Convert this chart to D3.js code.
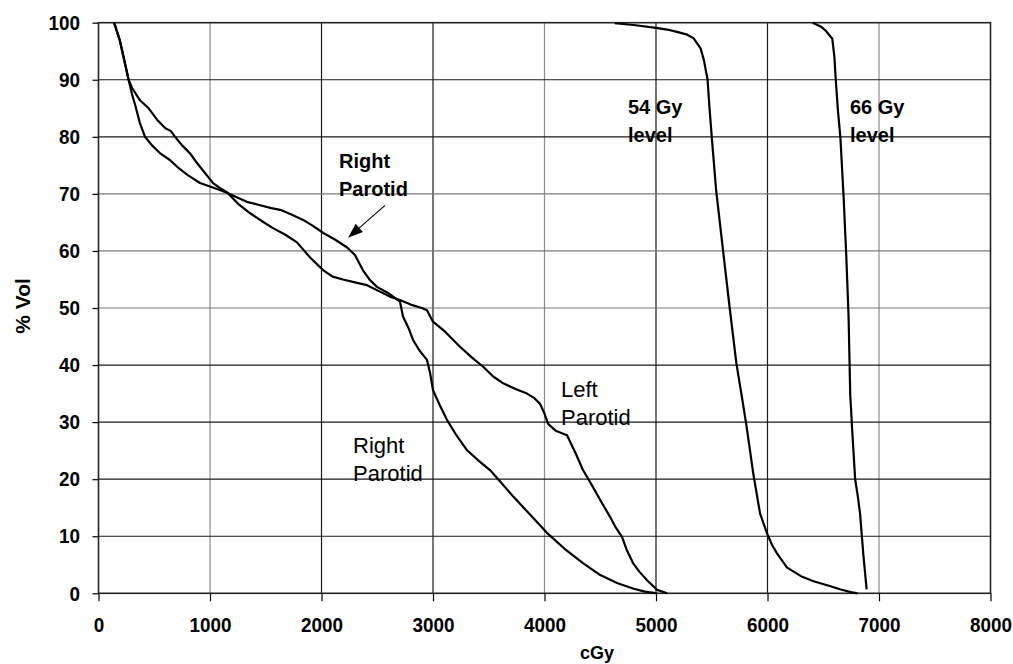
<!DOCTYPE html>
<html>
<head>
<meta charset="utf-8" />
<title>Dose volume histogram</title>
<script src="https://d3js.org/d3.v7.min.js"></script>
<style>
  body { margin: 0; background: #fff; }
  text { font-family: "Liberation Sans", Arial, sans-serif; fill: #000; }
</style>
</head>
<body>
<svg id="chart" width="1013" height="664"></svg>
<script>

// tick labels
var xTicks = [0, 1000, 2000, 3000, 4000, 5000, 6000, 7000, 8000];
var yTicks = [0, 10, 20, 30, 40, 50, 60, 70, 80, 90, 100];

// curves (dose in cGy, % volume)
var rightDose = [140, 190, 230, 270, 300, 330, 370, 417, 480, 560, 643, 720, 800, 910, 1000, 1100, 1150, 1250, 1330, 1450, 1550, 1630, 1740, 1840, 1930, 2020, 2120, 2230, 2300, 2372, 2430, 2497, 2600, 2704, 2731, 2780, 2821, 2880, 2946, 2975, 3000, 3060, 3125, 3200, 3304, 3400, 3511, 3620, 3722, 3870, 4022, 4180, 4345, 4500, 4650, 4800, 4900, 5010];
var rightVol  = [100, 97, 93.5, 90, 87.5, 85.5, 82.5, 80, 78.5, 77, 75.9, 74.5, 73.3, 71.9, 71.3, 70.6, 70.2, 69.3, 68.6, 68, 67.5, 67.2, 66.3, 65.4, 64.3, 63.1, 62, 60.6, 59.3, 56.6, 55, 53.7, 52.6, 51.1, 48.5, 46.5, 44.4, 42.5, 40.9, 38.5, 35.6, 33, 30.4, 28, 25.1, 23.4, 21.6, 19.2, 16.9, 13.8, 10.6, 7.8, 5.3, 3.2, 1.8, 0.8, 0.3, 0];

var leftDose = [140, 190, 230, 270, 300, 372, 450, 525, 600, 650, 686, 750, 821, 880, 937, 990, 1027, 1090, 1152, 1250, 1360, 1460, 1565, 1680, 1780, 1900, 2017, 2100, 2193, 2300, 2408, 2510, 2614, 2704, 2800, 2900, 2946, 3000, 3100, 3242, 3350, 3450, 3540, 3630, 3740, 3843, 3910, 3960, 4000, 4032, 4100, 4202, 4280, 4345, 4435, 4510, 4588, 4640, 4695, 4740, 4794, 4850, 4920, 5010, 5100];
var leftVol  = [100, 97, 93.5, 90, 88.6, 86.4, 85, 83, 81.5, 81, 80, 78.5, 77.1, 75.5, 74.1, 72.8, 71.9, 71, 70.3, 68.3, 66.6, 65.3, 64, 62.8, 61.5, 58.8, 56.6, 55.5, 55, 54.5, 54, 53, 52, 51.4, 50.6, 50, 49.6, 47.6, 46, 43.2, 41.3, 39.7, 38, 36.8, 35.8, 35, 34.2, 33.2, 31.5, 29.7, 28.5, 27.7, 24.5, 21.6, 18.6, 16, 13.4, 11.5, 9.9, 7.5, 5.3, 3.8, 2.3, 0.6, 0];

var gy54Dose = [4630, 4800, 5000, 5100, 5188, 5280, 5336, 5400, 5430, 5462, 5480, 5500, 5539, 5600, 5661, 5721, 5767, 5812, 5873, 5933, 5994, 6040, 6085, 6176, 6300, 6413, 6535, 6650, 6747, 6808];
var gy54Vol  = [99.9, 99.6, 99.1, 98.8, 98.4, 97.9, 97.3, 95.5, 93.4, 90.1, 85, 80, 70.7, 60.3, 50, 40.3, 34.8, 29.3, 20.9, 14, 10.6, 8.5, 7, 4.5, 3, 2.1, 1.4, 0.7, 0.2, 0];

var gy66Dose = [6405, 6480, 6522, 6581, 6600, 6610, 6630, 6654, 6683, 6707, 6727, 6742, 6762, 6786, 6810, 6830, 6859, 6889];
var gy66Vol  = [100, 99.3, 98.6, 97.2, 94, 90.7, 85, 79.8, 69.3, 58.9, 48.6, 34.8, 27.8, 20, 17, 14, 6.9, 0.7];

// annotations
var annoLines = [["Right", "Parotid"], ["Right", "Parotid"], ["Left", "Parotid"], ["54 Gy", "level"], ["66 Gy", "level"]];
var annoDose  = [2157, 2283, 4148, 4749, 6740];
var annoVol   = [74.5, 24.6, 34.4, 84.0, 84.0];
var annoBold  = [true, false, false, true, true];
var arrowFrom = [2570, 68.0];
var arrowTo   = [2238, 62.3];

var svg = d3.select("#chart");
var pLeft = 98.5, pRight = 990.5, pTop = 22.7, pBottom = 593.3;

var x = d3.scaleLinear().domain([0, 8000]).range([pLeft, pRight]);
var y = d3.scaleLinear().domain([0, 100]).range([pBottom, pTop]);

// grid
svg.append("g").selectAll("line")
  .data(xTicks.slice(1, -1))
  .enter().append("line")
  .attr("x1", function(d) { return x(d); })
  .attr("x2", function(d) { return x(d); })
  .attr("y1", pTop).attr("y2", pBottom)
  .attr("stroke", function(d) { return (d == 1000 || d == 4000 || d == 7000) ? "#8c8c8c" : "#1a1a1a"; })
  .attr("stroke-width", 1.2);

svg.append("g").selectAll("line")
  .data(yTicks.slice(1, -1))
  .enter().append("line")
  .attr("y1", function(d) { return y(d); })
  .attr("y2", function(d) { return y(d); })
  .attr("x1", pLeft).attr("x2", pRight)
  .attr("stroke", function(d) { return (d >= 50 && d <= 70) ? "#7a7a7a" : "#1a1a1a"; })
  .attr("stroke-width", 1.2);

// axes
var xAxis = svg.append("g")
  .attr("transform", "translate(0," + pBottom + ")")
  .call(d3.axisBottom(x).tickValues(xTicks).tickFormat(d3.format("d"))
    .tickSize(8).tickSizeOuter(0).tickPadding(16));
var yAxis = svg.append("g")
  .attr("transform", "translate(" + pLeft + ",0)")
  .call(d3.axisLeft(y).tickValues(yTicks).tickFormat(d3.format("d"))
    .tickSize(6).tickSizeOuter(0));

[xAxis, yAxis].forEach(function(a) {
  a.select(".domain").remove();
  a.selectAll("text")
    .attr("font-family", "'Liberation Sans', Arial, sans-serif")
    .attr("font-size", 21)
    .attr("font-weight", "bold")
    .attr("transform", "scale(0.9,1)");
  a.selectAll("line").attr("stroke-width", 1.2);
});
yAxis.selectAll("text").attr("x", -20.5);

// frame
svg.append("rect")
  .attr("x", pLeft).attr("y", pTop)
  .attr("width", pRight - pLeft).attr("height", pBottom - pTop)
  .attr("fill", "none").attr("stroke", "#222").attr("stroke-width", 1.6);

// curves
var line = d3.line()
  .x(function(d) { return x(d[0]); })
  .y(function(d) { return y(d[1]); });

function pairs(ds, vs) { return ds.map(function(d, i) { return [d, vs[i]]; }); }

var curves = [pairs(rightDose, rightVol), pairs(leftDose, leftVol), pairs(gy54Dose, gy54Vol), pairs(gy66Dose, gy66Vol)];

svg.append("g").selectAll("path")
  .data(curves)
  .enter().append("path")
  .attr("d", line)
  .attr("fill", "none")
  .attr("stroke", "#000")
  .attr("stroke-width", 2.2)
  .attr("stroke-linejoin", "round");

// annotations
annoLines.forEach(function(lines, i) {
  var t = svg.append("text")
    .attr("x", x(annoDose[i]))
    .attr("y", y(annoVol[i]))
    .attr("font-size", annoBold[i] ? 20 : 22)
    .attr("font-weight", annoBold[i] ? "bold" : "normal");
  lines.forEach(function(s, j) {
    t.append("tspan")
      .attr("x", x(annoDose[i]))
      .attr("dy", j == 0 ? 0 : 28)
      .text(s);
  });
});

// arrow
var ax1 = x(arrowFrom[0]), ay1 = y(arrowFrom[1]), ax2 = x(arrowTo[0]), ay2 = y(arrowTo[1]);
var ang = Math.atan2(ay2 - ay1, ax2 - ax1);
var len = 15, half = 5.5;
var bx = ax2 - len * Math.cos(ang), by = ay2 - len * Math.sin(ang);
svg.append("line")
  .attr("x1", ax1).attr("y1", ay1).attr("x2", bx).attr("y2", by)
  .attr("stroke", "#000").attr("stroke-width", 1.1);
svg.append("path")
  .attr("d", "M" + ax2 + "," + ay2 +
    "L" + (bx + half * Math.sin(ang)) + "," + (by - half * Math.cos(ang)) +
    "L" + (bx - half * Math.sin(ang)) + "," + (by + half * Math.cos(ang)) + "Z")
  .attr("fill", "#000");

// axis titles
svg.append("text")
  .attr("x", 597).attr("y", 659)
  .attr("text-anchor", "middle")
  .attr("font-size", 18).attr("font-weight", "bold")
  .text("cGy");

svg.append("text")
  .attr("transform", "translate(30," + ((pTop + pBottom) / 2 - 2) + ") rotate(-90)")
  .attr("text-anchor", "middle")
  .attr("font-size", 21).attr("font-weight", "bold")
  .text("% Vol");

</script>
</body>
</html>
